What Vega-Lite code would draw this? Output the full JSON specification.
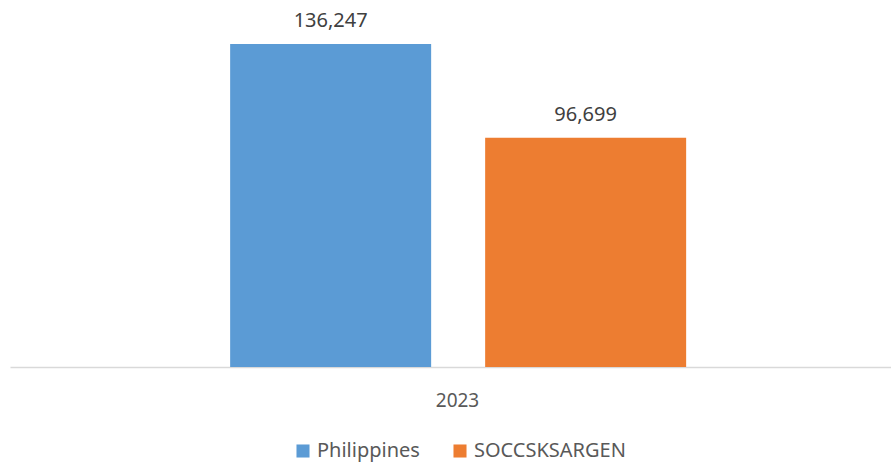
{
  "$schema": "https://vega.github.io/schema/vega-lite/v6.json",
  "width": 881,
  "height": 367,
  "autosize": {"type": "none"},
  "padding": {"left": 10, "top": 0, "right": 0, "bottom": 96},
  "config": {"view": {"stroke": null}, "font": "Noto Sans"},
  "data": {
    "values": [
      {"year": "2023", "series": "Philippines", "value": 136247},
      {"year": "2023", "series": "SOCCSKSARGEN", "value": 96699}
    ]
  },
  "encoding": {
    "x": {
      "field": "year",
      "type": "nominal",
      "scale": {"paddingInner": 0, "paddingOuter": 0},
      "axis": {
        "title": null,
        "ticks": false,
        "labelAngle": 0,
        "labelFontSize": 19,
        "labelColor": "#595959",
        "labelPadding": 24,
        "labelOffset": 7,
        "domainColor": "#D9D9D9",
        "domainWidth": 1.5
      }
    },
    "xOffset": {
      "field": "series",
      "type": "nominal",
      "scale": {"paddingInner": 0.2118, "paddingOuter": 0.8333, "align": 0.518}
    },
    "y": {
      "field": "value",
      "type": "quantitative",
      "scale": {"domain": [0, 154808], "nice": false},
      "axis": null
    }
  },
  "layer": [
    {
      "mark": {"type": "bar"},
      "encoding": {
        "color": {
          "field": "series",
          "type": "nominal",
          "scale": {"range": ["#5B9BD5", "#ED7D31"]},
          "legend": {
            "title": null,
            "orient": "none",
            "legendX": 283,
            "legendY": 441,
            "direction": "horizontal",
            "symbolType": "square",
            "symbolSize": 170,
            "symbolStrokeWidth": 0,
            "labelFontSize": 20,
            "labelColor": "#595959",
            "labelOffset": 4,
            "columnPadding": 30
          }
        }
      }
    },
    {
      "mark": {"type": "text", "baseline": "alphabetic", "dy": -17, "fontSize": 20, "color": "#404040"},
      "encoding": {"text": {"field": "value", "type": "quantitative", "format": ","}}
    }
  ]
}
